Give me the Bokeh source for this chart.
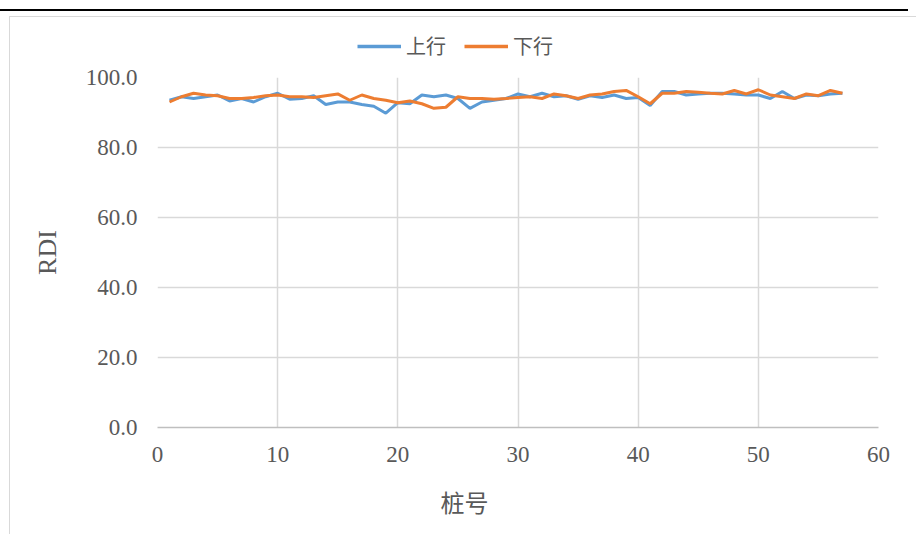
from bokeh.plotting import figure
from bokeh.layouts import column
from bokeh.models import Legend, LegendItem, Range1d, FixedTicker, NumeralTickFormatter, Title
from bokeh.embed import file_html
from bokeh.resources import INLINE

pile = list(range(1, 58))
up = [93.5, 94.5, 94.0, 94.5, 95.0, 93.3, 94.0, 93.0, 94.5, 95.5,
      93.8, 94.0, 94.8, 92.3, 93.0, 93.0, 92.3, 91.8, 89.8, 92.8,
      92.5, 95.0, 94.5, 95.0, 94.0, 91.2, 93.0, 93.5, 94.0, 95.3,
      94.5, 95.5, 94.5, 94.8, 93.8, 94.8, 94.3, 95.0, 94.0, 94.3,
      92.0, 96.0, 96.0, 95.0, 95.3, 95.5, 95.5, 95.3, 95.0, 95.0,
      94.0, 96.0, 94.0, 95.0, 94.8, 95.3, 95.5]
down = [93.0, 94.5, 95.5, 95.0, 94.8, 94.0, 94.0, 94.3, 94.8, 95.0,
        94.5, 94.5, 94.3, 94.8, 95.3, 93.5, 95.0, 94.0, 93.5, 92.8,
        93.3, 92.5, 91.2, 91.5, 94.5, 94.0, 94.0, 93.8, 94.0, 94.3,
        94.5, 94.0, 95.3, 94.8, 94.0, 95.0, 95.3, 96.0, 96.3, 94.5,
        92.5, 95.5, 95.5, 96.0, 95.8, 95.5, 95.3, 96.3, 95.3, 96.5,
        95.0, 94.5, 94.0, 95.3, 94.8, 96.3, 95.5]
x_ticks = [0, 10, 20, 30, 40, 50, 60]
y_ticks = [0, 20, 40, 60, 80, 100]
series_names = ["上行", "下行"]
x_title = "桩号"
y_title = "RDI"
colors = ["#5b9bd5", "#ed7d31"]

# legend strip (separate figure so the legend is not clipped by the main frame;
# its frame is aligned with the main plot's frame by the column layout)
lf = figure(width=907, height=46, output_backend="svg", toolbar_location=None,
            x_range=Range1d(0, 1), y_range=Range1d(0, 1),
            x_axis_location=None, y_axis_location=None,
            min_border_left=0, min_border_right=0, min_border_top=0, min_border_bottom=0)
lf.outline_line_color = None
lf.grid.visible = False
lf.border_fill_color = "white"
lf.background_fill_color = "white"
# legend proxies (drawn outside the visible range; only their legend glyphs show)
l1 = lf.line([pile[0] + 5, pile[1] + 5], [up[0], up[1]], line_color=colors[0], line_width=3.5)
l2 = lf.line([pile[0] + 5, pile[1] + 5], [down[0], down[1]], line_color=colors[1], line_width=3.5)
legend = Legend(items=[LegendItem(label=series_names[0], renderers=[l1]),
                       LegendItem(label=series_names[1], renderers=[l2])],
                orientation="horizontal", location=(200, 3), padding=4, margin=0,
                label_text_font="Noto Sans CJK SC", label_text_font_size="20px",
                label_text_color="#595959", glyph_width=44, spacing=18,
                border_line_color=None, background_fill_alpha=0)
lf.add_layout(legend, "center")

p = figure(width=907, height=472, output_backend="svg", toolbar_location=None,
           x_range=Range1d(0, 60), y_range=Range1d(0, 100),
           min_border_left=147, min_border_right=39, min_border_top=14, min_border_bottom=106)
p.outline_line_color = None
p.background_fill_color = "white"
p.border_fill_color = "white"

p.line(pile, up, line_color=colors[0], line_width=3)
p.line(pile, down, line_color=colors[1], line_width=3)

p.xaxis.ticker = FixedTicker(ticks=x_ticks)
p.yaxis.ticker = FixedTicker(ticks=y_ticks)
p.yaxis.formatter = NumeralTickFormatter(format="0.0")
for ax in (p.xaxis[0], p.yaxis[0]):
    ax.major_label_text_font = "Liberation Serif"
    ax.major_label_text_font_size = "23px"
    ax.major_label_text_color = "#595959"
    ax.major_tick_line_color = None
    ax.minor_tick_line_color = None
    ax.axis_label_text_color = "#595959"
    ax.axis_label_text_font_style = "normal"
p.xaxis.axis_line_color = "#bfbfbf"
p.xaxis.axis_line_width = 1.5
p.yaxis.axis_line_color = None
p.xaxis.major_label_standoff = 13
p.yaxis.major_label_standoff = 14
p.yaxis.axis_label = y_title
p.yaxis.axis_label_text_font = "Liberation Serif"
p.yaxis.axis_label_text_font_size = "26px"
p.yaxis.axis_label_standoff = 21

# x-axis title: in the reference it is centred on the chart area, not the plot frame
xt = Title(text=x_title, align="left", offset=283, standoff=34,
           text_font="Noto Sans CJK SC", text_font_size="24px",
           text_font_style="normal", text_color="#595959")
p.add_layout(xt, "below")

p.xgrid.ticker = FixedTicker(ticks=x_ticks)
p.ygrid.ticker = FixedTicker(ticks=y_ticks)
p.xgrid.grid_line_color = "#d9d9d9"
p.ygrid.grid_line_color = "#d9d9d9"
p.xgrid.grid_line_width = 1.5
p.ygrid.grid_line_width = 1.5

inner = column(lf, p, spacing=0)
inner.styles = {"transform": "translate(9px, 5px)",
                "border-left": "1.5px solid #d9d9d9", "border-top": "1.5px solid #d9d9d9"}
outer = column(inner)
outer.styles = {"transform": "translate(0px, 9px)", "border-top": "2px solid black"}

open("out.html", "w").write(file_html(outer, INLINE))
